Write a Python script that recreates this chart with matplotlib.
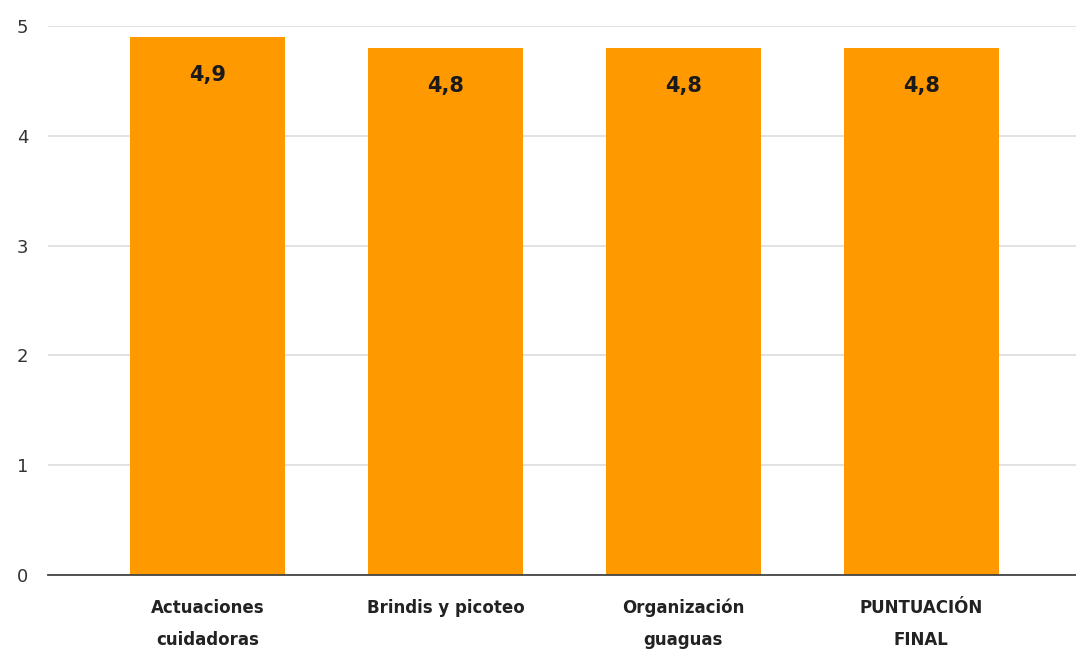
import matplotlib.pyplot as plt

categories = ['Actuaciones\ncuidadoras', 'Brindis y picoteo', 'Organización\nguaguas', 'PUNTUACIÓN\nFINAL']
values = [4.9, 4.8, 4.8, 4.8]
labels = ['4,9', '4,8', '4,8', '4,8']
yticks = [0, 1, 2, 3, 4, 5]

fig = plt.figure(figsize=(10.76, 6.54), dpi=100)
ax = fig.add_axes([0.0446, 0.1208, 0.9554, 0.8392])

x = range(len(categories))
bars = ax.bar(x, values, width=0.65, color='#ff9900', zorder=3)

for b, lab in zip(bars, labels):
    ax.text(b.get_x() + b.get_width() / 2, b.get_height() - 0.25, lab,
            ha='center', va='top', fontsize=15, fontweight='bold', color='#1a1a1a', zorder=4)

ax.set_xlim(-0.67, 3.65)
ax.set_ylim(0, 5)
ax.set_yticks(yticks)
ax.set_xticks(list(x))
ax.set_xticklabels(categories, fontsize=12, fontweight='bold', color='#222222', linespacing=2.0)
ax.tick_params(axis='x', length=0, pad=17)
ax.tick_params(axis='y', length=0, pad=14, labelsize=13, labelcolor='#333333')
for t in ax.get_yticklabels():
    t.set_horizontalalignment('right')

ax.yaxis.grid(True, color='#dddddd', linewidth=1.2, zorder=0)
for s in ['top', 'right', 'left']:
    ax.spines[s].set_visible(False)
ax.spines['bottom'].set_color('#444444')
ax.spines['bottom'].set_linewidth(1.3)
ax.spines['bottom'].set_zorder(5)

plt.savefig('out.png', dpi=100)
